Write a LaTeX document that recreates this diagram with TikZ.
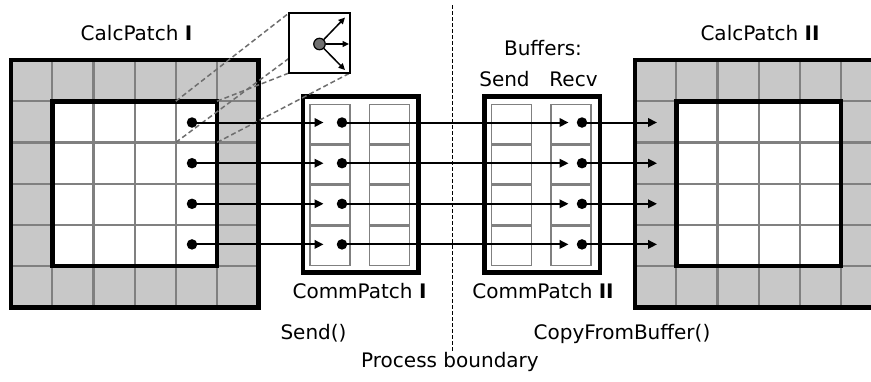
\documentclass[tikz,border=0pt]{standalone}
\usepackage{fontspec}
\setmainfont{DejaVu Sans}
\usetikzlibrary{arrows.meta}
\definecolor{ghostgray}{HTML}{C8C8C8}
\definecolor{gridgray}{HTML}{808080}
\definecolor{dashgray}{HTML}{6E6E6E}
\definecolor{knobgray}{HTML}{707070}
\begin{document}
\begin{tikzpicture}[x=1pt,y=-1pt,
  lbl/.style={inner sep=0pt,anchor=base,font=\fontsize{20}{24}\selectfont},
  gridline/.style={draw=gridgray,line width=2.2pt},
  heavy/.style={draw=black,line width=4.8pt},
  cellbox/.style={draw=gridgray,line width=1.5pt,fill=white},
  zoomline/.style={draw=dashgray,line width=1.5pt,dash pattern=on 5pt off 3pt},
  boundary/.style={draw=black,line width=1.3pt,dash pattern=on 4pt off 2pt},
  dot/.style={circle,fill=black,inner sep=0pt,minimum size=10.5pt},
  arr/.style={draw=black,line width=2pt,-{Triangle[length=9pt,width=8.5pt]}},
  magarr/.style={draw=black,line width=1.5pt,-{Triangle[length=6.5pt,width=6pt]}},
  magbox/.style={draw=black,fill=white,line width=1.5pt},
  knobstyle/.style={circle,draw=black,fill=knobgray,line width=1.2pt,minimum size=11.5pt,inner sep=0pt},
]
\useasboundingbox (0,0) rectangle (871,381);
\clip (0,0) rectangle (871,381);

% process boundary
\coordinate (bTop) at (452.3,5);
\coordinate (bBot) at (452.3,352);
\draw[boundary] (bTop) -- (bBot);

% calc patches
\foreach \ox in {11,635}{
  \fill[ghostgray] (\ox,60) rectangle ++(247.2,247.2);
  \fill[white] (\ox+41.2,101.2) rectangle ++(164.8,164.8);
  \foreach \k in {1,...,5}{
    \draw[gridline] (\ox+\k*41.2,60) -- ++(0,247.2);
    \draw[gridline] (\ox,60+\k*41.2) -- ++(247.2,0);
  }
  \draw[heavy] (\ox+41.2,101.2) rectangle ++(164.8,164.8);
  \draw[heavy] (\ox,60) rectangle ++(247.2,247.2);
}

% comm patches
\foreach \ox in {303,484.5}{
  \draw[heavy] (\ox,96.5) rectangle ++(115.5,176);
  \foreach \c in {7,66.5}{
    \foreach \i in {0,...,3}{
      \draw[cellbox] (\ox+\c,104.3+\i*40.7) rectangle ++(40,39.1);
    }
  }
}

% magnifier
\coordinate (cTL) at (175.8,101.2);
\coordinate (cTR) at (217,101.2);
\coordinate (cBL) at (175.8,142.4);
\coordinate (cBR) at (217,142.4);
\coordinate (mNW) at (289,13);
\coordinate (mNE) at (350,13);
\coordinate (mSW) at (289,73);
\coordinate (mSE) at (350,73);
\draw[zoomline] (cTL) -- (mNW);
\draw[zoomline] (cBL) -- (mNE);
\draw[zoomline] (cTR) -- (mSW);
\draw[zoomline] (cBR) -- (mSE);
\draw[magbox] (mNW) rectangle (mSE);
\node[knobstyle] (knob) at (319.5,44) {};
\coordinate (k1) at (345,17.5);
\coordinate (k2) at (349,44);
\coordinate (k3) at (345,70);
\draw[magarr] (knob) -- (k1);
\draw[magarr] (knob) -- (k2);
\draw[magarr] (knob) -- (k3);

% data arrows
\foreach \i/\y in {1/122.5,2/163.2,3/203.8,4/244.4}{
  \node[dot] (s\i) at (192,\y) {};
  \coordinate (a\i) at (323.5,\y);
  \node[dot] (p\i) at (342,\y) {};
  \coordinate (b\i) at (568.5,\y);
  \node[dot] (r\i) at (582,\y) {};
  \coordinate (c\i) at (657,\y);
  \draw[arr] (s\i.center) -- (a\i);
  \draw[arr] (p\i.center) -- (b\i);
  \draw[arr] (r\i.center) -- (c\i);
}

% labels
\node[lbl] (t1) at (136.5,40.5) {CalcPatch \textbf{I}};
\node[lbl] (t2) at (760,40.5) {CalcPatch \textbf{II}};
\node[lbl] (t3) at (543,55) {Buffers:};
\node[lbl] (t4) at (504.5,86) {Send};
\node[lbl] (t5) at (573.5,86) {Recv};
\node[lbl] (t6) at (359.5,298) {CommPatch \textbf{I}};
\node[lbl] (t7) at (543,298) {CommPatch \textbf{II}};
\node[lbl] (t8) at (313.5,339) {Send()};
\node[lbl] (t9) at (622,339) {CopyFromBuffer()};
\node[lbl] (t10) at (450,367) {Process boundary};
\end{tikzpicture}
\end{document}
